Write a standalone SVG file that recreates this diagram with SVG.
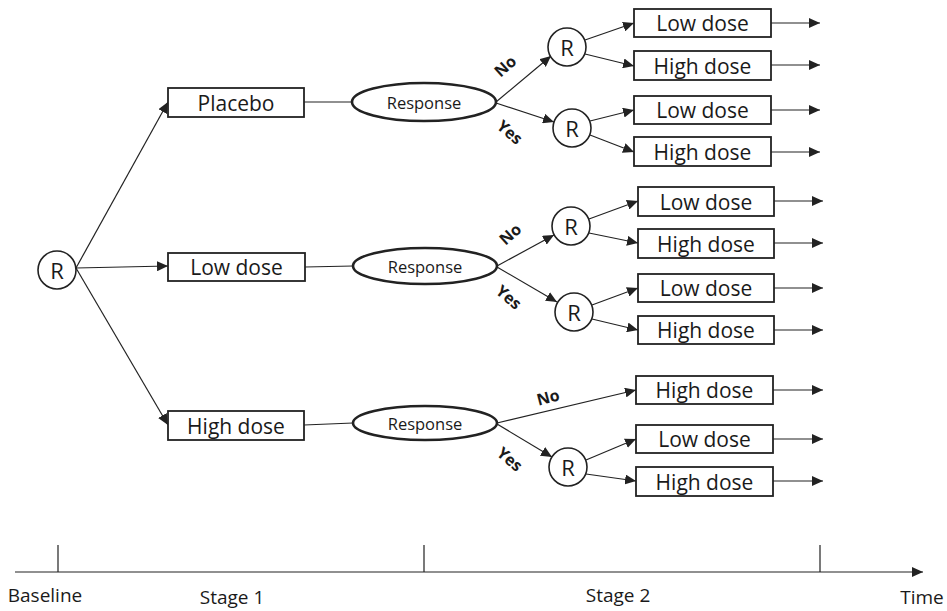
<svg xmlns="http://www.w3.org/2000/svg" width="947" height="611" viewBox="0 0 947 611">
<style>
.box{fill:#fff;stroke:#222;stroke-width:1.8}
.ell{fill:#fff;stroke:#222;stroke-width:2.6}
.circ{fill:#fff;stroke:#222;stroke-width:1.6}
.t{font-family:"Open Sans","Noto Sans",sans-serif;font-size:21px;fill:#1a1a1a;text-anchor:middle;dominant-baseline:central}
.r{font-family:"Open Sans","Noto Sans",sans-serif;font-size:22px;fill:#1a1a1a;text-anchor:middle;dominant-baseline:central}
.rt{font-family:"Open Sans","Noto Sans",sans-serif;font-size:16.5px;fill:#1a1a1a;text-anchor:middle;dominant-baseline:central}
.yn{font-family:"Open Sans","Noto Sans",sans-serif;font-size:16px;font-weight:bold;fill:#1a1a1a;text-anchor:middle;dominant-baseline:central}
.ax{font-family:"Open Sans","Noto Sans",sans-serif;font-size:19px;fill:#1a1a1a;text-anchor:middle}
.c{stroke:#222;stroke-width:1.2;fill:none}
.a{stroke:#222;stroke-width:1.2;fill:none;marker-end:url(#ah)}
</style>
<defs>
<marker id="ah" markerUnits="userSpaceOnUse" markerWidth="12" markerHeight="10" refX="11" refY="5" orient="auto">
<path d="M0,0 L11,5 L0,10 Z" fill="#222"/>
</marker>
</defs>
<g id="connectors">
<path class="a" d="M76,268 L168,102"/>
<path class="a" d="M76,268 L168,266"/>
<path class="a" d="M76,268 L168,425"/>
<path class="c" d="M304,102 L352,102"/>
<path class="c" d="M305,267 L353,266"/>
<path class="c" d="M304,425 L353,423"/>
<path class="a" d="M496,102 L551,56"/>
<path class="a" d="M496,103 L554,122"/>
<path class="a" d="M585,40 L634,23"/>
<path class="a" d="M585,54 L634,66"/>
<path class="a" d="M590,121 L634,110"/>
<path class="a" d="M590,135 L634,152"/>
<path class="a" d="M771,23 L820,23"/>
<path class="a" d="M771,65 L820,65"/>
<path class="a" d="M771,110 L820,110"/>
<path class="a" d="M771,152 L820,152"/>
<path class="a" d="M497,266 L554,235"/>
<path class="a" d="M497,267 L557,302"/>
<path class="a" d="M589,219 L638,201"/>
<path class="a" d="M589,233 L638,243"/>
<path class="a" d="M592,305 L638,288"/>
<path class="a" d="M592,319 L638,330"/>
<path class="a" d="M774,201 L823,201"/>
<path class="a" d="M774,243 L823,243"/>
<path class="a" d="M774,288 L823,288"/>
<path class="a" d="M774,330 L823,330"/>
<path class="a" d="M497,423 L636,390"/>
<path class="a" d="M497,424 L552,457"/>
<path class="a" d="M586,460 L636,439"/>
<path class="a" d="M586,474 L636,481"/>
<path class="a" d="M773,390 L823,390"/>
<path class="a" d="M773,439 L823,439"/>
<path class="a" d="M773,481 L823,481"/>
</g>
<g id="labels">
<text class="yn" transform="translate(505,66) rotate(-42)">No</text>
<text class="yn" transform="translate(510,132) rotate(40)">Yes</text>
<text class="yn" transform="translate(510,234) rotate(-42)">No</text>
<text class="yn" transform="translate(509,297) rotate(40)">Yes</text>
<text class="yn" transform="translate(548,397) rotate(-15)">No</text>
<text class="yn" transform="translate(510,459) rotate(40)">Yes</text>
</g>
<g id="r0"><circle class="circ" cx="57" cy="270" r="19"/><text class="r" x="57" y="270">R</text></g>
<g id="placebo"><rect class="box" x="168" y="88" width="136" height="29"/><text class="t" x="236" y="102.5">Placebo</text></g>
<g id="lowdose1"><rect class="box" x="168" y="253" width="137" height="28"/><text class="t" x="236.5" y="267">Low dose</text></g>
<g id="highdose1"><rect class="box" x="168" y="411" width="136" height="29"/><text class="t" x="236" y="425.5">High dose</text></g>
<g id="resp1"><ellipse class="ell" cx="424" cy="102" rx="72" ry="19"/><text class="rt" x="424" y="102">Response</text></g>
<g id="resp2"><ellipse class="ell" cx="425" cy="266" rx="72" ry="18"/><text class="rt" x="425" y="266">Response</text></g>
<g id="resp3"><ellipse class="ell" cx="425" cy="423" rx="72" ry="17"/><text class="rt" x="425" y="423">Response</text></g>
<g id="r1"><circle class="circ" cx="567" cy="47" r="19"/><text class="r" x="567" y="47">R</text></g>
<g id="r2"><circle class="circ" cx="572" cy="128" r="19"/><text class="r" x="572" y="128">R</text></g>
<g id="r3"><circle class="circ" cx="571" cy="226" r="19"/><text class="r" x="571" y="226">R</text></g>
<g id="r4"><circle class="circ" cx="574" cy="312" r="19"/><text class="r" x="574" y="312">R</text></g>
<g id="r5"><circle class="circ" cx="568" cy="467" r="19"/><text class="r" x="568" y="467">R</text></g>
<g id="b1"><rect class="box" x="634" y="9" width="137" height="28"/><text class="t" x="702.5" y="23">Low dose</text></g>
<g id="b2"><rect class="box" x="634" y="51" width="137" height="29"/><text class="t" x="702.5" y="65.5">High dose</text></g>
<g id="b3"><rect class="box" x="634" y="96" width="137" height="28"/><text class="t" x="702.5" y="110">Low dose</text></g>
<g id="b4"><rect class="box" x="634" y="137" width="137" height="29"/><text class="t" x="702.5" y="151.5">High dose</text></g>
<g id="b5"><rect class="box" x="638" y="187" width="136" height="29"/><text class="t" x="706" y="201.5">Low dose</text></g>
<g id="b6"><rect class="box" x="638" y="229" width="136" height="29"/><text class="t" x="706" y="243.5">High dose</text></g>
<g id="b7"><rect class="box" x="638" y="274" width="136" height="28"/><text class="t" x="706" y="288">Low dose</text></g>
<g id="b8"><rect class="box" x="638" y="316" width="136" height="28"/><text class="t" x="706" y="330">High dose</text></g>
<g id="b9"><rect class="box" x="636" y="376" width="137" height="28"/><text class="t" x="704.5" y="390">High dose</text></g>
<g id="b10"><rect class="box" x="636" y="425" width="137" height="28"/><text class="t" x="704.5" y="439">Low dose</text></g>
<g id="b11"><rect class="box" x="636" y="467" width="137" height="29"/><text class="t" x="704.5" y="481.5">High dose</text></g>
<g id="timeline">
<path class="a" d="M15,572 L923,572"/>
<path class="c" d="M58,545 L58,572 M424,545 L424,572 M820,545 L820,572"/>
<text class="ax" x="45" y="602">Baseline</text>
<text class="ax" x="232" y="604">Stage 1</text>
<text class="ax" x="618" y="602">Stage 2</text>
<text class="ax" x="922" y="604">Time</text>
</g>
</svg>
